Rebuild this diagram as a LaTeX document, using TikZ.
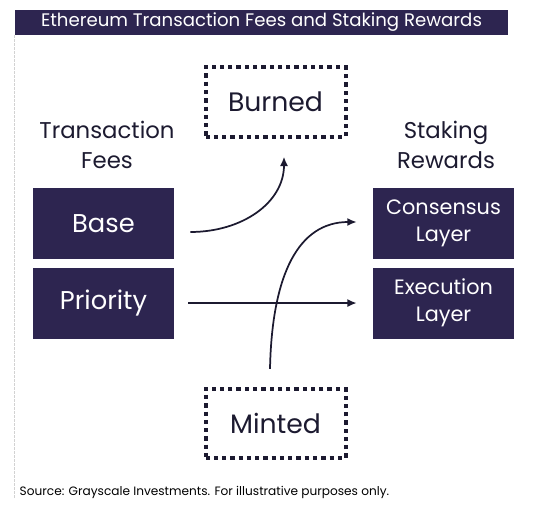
\documentclass[tikz,border=0pt]{standalone}
\usepackage{fontspec}
\setmainfont{Poppins}
\usepackage{xcolor}
\usepackage{tikz}
\usetikzlibrary{arrows.meta,positioning,calc}
\definecolor{ethpurple}{HTML}{2D2550}
\definecolor{inkblue}{HTML}{1C1A30}

\begin{document}
\begin{tikzpicture}[x=0.75pt, y=-0.75pt,
  titlebar/.style={fill=ethpurple, text=white, minimum width=369.75pt, minimum height=18.75pt, inner sep=0pt, font=\fontsize{13.6}{14}\selectfont},
  feebox/.style={fill=ethpurple, text=white, minimum width=105.75pt, minimum height=53.25pt, inner sep=0pt, align=center, font=\fontsize{19.3}{20}\selectfont},
  rewardbox/.style={fill=ethpurple, text=white, minimum width=105.75pt, minimum height=53.25pt, inner sep=0pt, align=center, font=\fontsize{15.6}{20.5}\selectfont},
  dotbox/.style={draw=inkblue, line width=3pt, dash pattern=on 3.2pt off 3pt, text=inkblue, minimum width=105pt, minimum height=52pt, inner sep=0pt, font=\fontsize{20}{22}\selectfont},
  headtxt/.style={text=inkblue, align=center, font=\fontsize{17.1}{22.5}\selectfont},
  flow/.style={draw=inkblue, line width=1.3pt, -{Latex[length=7pt,width=6pt]}}
]
\useasboundingbox (0,0) rectangle (543,510);
\node[titlebar] (title) at (261.5,22.5) {Ethereum Transaction Fees and Staking Rewards};
\draw[gray!35, line width=0.5pt, dash pattern=on 2pt off 1pt] (title.south west) -- ++(0,463);
\node[dotbox] (burned) at (275.5,102) {Burned};
\node[headtxt] (txfees) at (107,145) {Transaction\\Fees};
\node[headtxt] (staking) at (446,145) {Staking\\Rewards};
\node[feebox] (base) at (103.5,223.5) {Base};
\node[feebox, below=6pt of base] (priority) {Priority};
\node[rewardbox] (consensus) at (443.5,223.5) {Consensus\\Layer};
\node[rewardbox, below=6pt of consensus] (execution) {Execution\\Layer};
\node[dotbox] (minted) at (275.5,423.5) {Minted};
\node[anchor=west, text=black, font=\fontsize{9.1}{12}\selectfont] (source) at (15,492) {Source: Grayscale Investments. For illustrative purposes only.};
% flows
\coordinate (basefrom) at ($(base.east)+(16,8.5)$);
\coordinate (burnto) at ($(burned.south)+(8.5,18)$);
\coordinate (prioto) at ($(execution.west)+(-16,0)$);
\coordinate (mintfrom) at ($(minted.north)+(-5.5,-18)$);
\coordinate (consto) at ($(consensus.west)+(-16,-1.5)$);
\draw[flow] (basefrom) .. controls ($(basefrom)+(52,0)$) and ($(burnto)+(0,46)$) .. (burnto);
\draw[flow] (priority.east) ++(14,0) coordinate (priofrom) (priofrom) -- (prioto);
\draw[flow] (mintfrom) .. controls ($(mintfrom)+(2,-95)$) and ($(consto)+(-58,0)$) .. (consto);
\end{tikzpicture}
\end{document}
